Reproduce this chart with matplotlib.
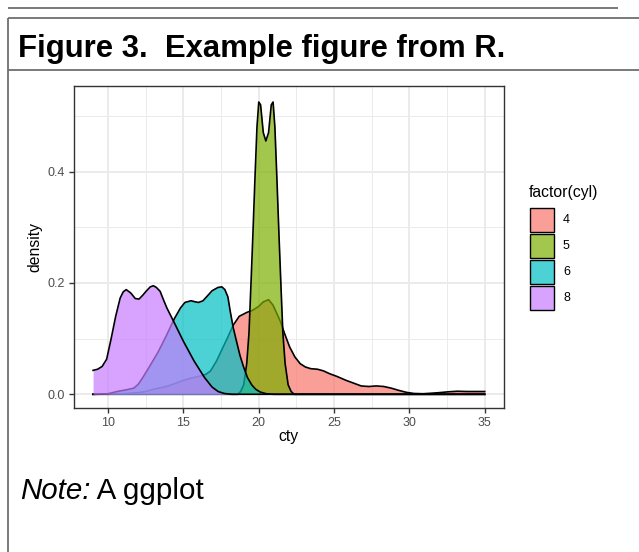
import matplotlib
matplotlib.use("Agg")
import matplotlib.pyplot as plt
from matplotlib.lines import Line2D
from matplotlib.patches import Rectangle
from matplotlib.colors import to_rgba

# ---------------- data ----------------
groups = ["4", "5", "6", "8"]
colors = ["#F8766D", "#7CAE00", "#00BFC4", "#C77CFF"]

red_x = [9, 10, 11, 12, 12.5, 13, 13.5, 14, 14.5, 15, 15.5, 16, 16.5, 16.8, 17.2, 17.6, 17.9, 18.3, 18.7, 19.2,
         19.6, 20.0, 20.3, 20.65, 20.95, 21.2, 21.45, 21.7, 22.05, 22.4, 22.75, 23.1, 23.45, 23.9, 24.3, 24.7,
         25.2, 25.8, 26.3, 26.8, 27.3, 27.8, 28.3, 28.8, 29.3, 29.8, 30.3, 30.9, 31.5, 32.0, 32.6, 33.2, 33.8,
         34.4, 35]
red_y = [0, 0.0005, 0.001, 0.003, 0.005, 0.009, 0.012, 0.015, 0.02, 0.025, 0.029, 0.032, 0.036, 0.042, 0.06,
         0.083, 0.1, 0.124, 0.14, 0.147, 0.151, 0.158, 0.166, 0.17, 0.16, 0.145, 0.13, 0.11, 0.085, 0.067,
         0.055, 0.049, 0.046, 0.045, 0.042, 0.037, 0.032, 0.025, 0.02, 0.015, 0.014, 0.015, 0.014, 0.011,
         0.007, 0.0035, 0.0015, 0.001, 0.002, 0.003, 0.0045, 0.0055, 0.005, 0.005, 0.005]

grn_x = [9, 18.6, 18.8, 19.0, 19.2, 19.35, 19.47, 19.6, 19.75, 19.88, 20.0, 20.12, 20.3, 20.47, 20.65, 20.83,
         20.95, 21.07, 21.2, 21.35, 21.48, 21.6, 21.75, 21.95, 22.15, 22.35, 35]
grn_y = [0, 0, 0.005, 0.017, 0.055, 0.11, 0.19, 0.28, 0.39, 0.48, 0.525, 0.52, 0.47, 0.455, 0.47, 0.52,
         0.525, 0.48, 0.39, 0.28, 0.19, 0.11, 0.055, 0.017, 0.005, 0, 0]

cyn_x = [9, 10.0, 10.6, 11.2, 11.7, 12.0, 12.3, 12.75, 13.3, 13.86, 14.4, 14.8, 15.1, 15.5, 15.8, 16.0, 16.3,
         16.6, 16.9, 17.3, 17.55, 17.75, 17.95, 18.1, 18.3, 18.55, 18.75, 18.98, 19.25, 19.53, 19.8, 20.1,
         20.5, 21, 35]
cyn_y = [0, 0.001, 0.005, 0.008, 0.011, 0.018, 0.03, 0.05, 0.075, 0.105, 0.136, 0.155, 0.165, 0.168, 0.166,
         0.165, 0.168, 0.177, 0.186, 0.192, 0.193, 0.188, 0.175, 0.15, 0.12, 0.092, 0.07, 0.05, 0.03, 0.017,
         0.009, 0.004, 0.001, 0, 0]

pur_x = [9.0, 9.3, 9.6, 9.9, 10.2, 10.5, 10.8, 11.0, 11.2, 11.5, 11.8, 12.05, 12.3, 12.55, 12.8, 13.0, 13.2,
         13.45, 13.7, 13.9, 14.4, 15.0, 15.7, 16.4, 16.9, 17.3, 17.7, 18.2, 35]
pur_y = [0.043, 0.045, 0.05, 0.063, 0.1, 0.14, 0.173, 0.184, 0.188, 0.182, 0.172, 0.171, 0.178, 0.186, 0.193,
         0.195, 0.192, 0.185, 0.168, 0.155, 0.128, 0.095, 0.06, 0.03, 0.013, 0.005, 0.0015, 0, 0]

series_x = [red_x, grn_x, cyn_x, pur_x]
series_y = [red_y, grn_y, cyn_y, pur_y]

x_ticks = [10, 15, 20, 25, 30, 35]
y_ticks = [0.0, 0.2, 0.4]
y_ticklabels = ["0.0", "0.2", "0.4"]

title_text = "Figure 3.  Example figure from R."
note_label = "Note:"
note_text = " A ggplot"

# ---------------- figure ----------------
W, H = 639, 552
fig = plt.figure(figsize=(W / 100, H / 100), dpi=100)


def X(px):
    return px / W


def Y(py):
    return 1 - py / H


frame_col = "#6e6e6e"
for xs, ys in [((8, 618), (8, 8)), ((8, 639), (18, 18)), ((8, 8), (18, 552)), ((8, 639), (70, 70))]:
    fig.add_artist(Line2D([X(xs[0]), X(xs[1])], [Y(ys[0]), Y(ys[1])], color=frame_col, lw=1.3,
                          solid_capstyle="butt"))

sans = "Liberation Sans"
title = fig.text(X(18), Y(57), title_text, fontsize=22.5, fontweight="bold", family=sans, va="baseline",
                 color="black")

note1 = fig.text(X(20), Y(499), note_label, fontsize=21, style="italic", family=sans, va="baseline")
note2 = fig.text(0, 0, note_text, fontsize=21, family=sans, va="baseline")

# ---------------- panel ----------------
left, right, top, bottom = 73.5, 504.3, 85.7, 408.3
ax = fig.add_axes([X(left), Y(bottom), (right - left) / W, (bottom - top) / H])
ax.set_facecolor("white")
ax.set_xlim(7.7, 36.3)
ax.set_ylim(-0.02515, 0.5543)

grid_col = "#EBEBEB"
for v in [12.5, 17.5, 22.5, 27.5, 32.5]:
    ax.axvline(v, color=grid_col, lw=0.7, zorder=0)
for v in [0.1, 0.3, 0.5]:
    ax.axhline(v, color=grid_col, lw=0.7, zorder=0)
for v in x_ticks:
    ax.axvline(v, color=grid_col, lw=1.4, zorder=0)
for v in y_ticks:
    ax.axhline(v, color=grid_col, lw=1.4, zorder=0)

for i, (xs, ys) in enumerate(zip(series_x, series_y)):
    ax.fill_between(xs, 0, ys, color=colors[i], alpha=0.7, lw=0, zorder=2 + 2 * i)
    ax.plot(xs, ys, color="black", lw=1.2, zorder=3 + 2 * i, solid_joinstyle="round")

ax.set_xticks(x_ticks)
ax.set_xticklabels([str(t) for t in x_ticks])
ax.set_yticks(y_ticks)
ax.set_yticklabels(y_ticklabels)
ax.tick_params(axis="both", length=3.8, width=1.0, color="#333333", labelcolor="#4D4D4D",
               labelsize=9, pad=2.5)
for lab in ax.get_xticklabels() + ax.get_yticklabels():
    lab.set_family(sans)
for s in ax.spines.values():
    s.set_color("#333333")
    s.set_linewidth(1.0)

fig.text(X((left + right) / 2), Y(437), "cty", fontsize=11.3, family=sans, ha="center", va="center")
fig.text(X(35), Y((top + bottom) / 2), "density", fontsize=11.3, family=sans, ha="center", va="center",
         rotation=90)

# ---------------- legend ----------------
fig.text(X(529), Y(193), "factor(cyl)", fontsize=11.3, family=sans, ha="left", va="center")
for i, g in enumerate(groups):
    y0 = 208 + 26 * i
    fig.add_artist(Rectangle((X(530), Y(y0 + 24)), 24 / W, 24 / H, transform=fig.transFigure,
                             facecolor=to_rgba(colors[i], 0.7), edgecolor="black", lw=1.0))
    fig.text(X(563), Y(y0 + 12), g, fontsize=9, family=sans, ha="left", va="center")

# ---------------- fit title / note widths ----------------
fig.canvas.draw()
r = fig.canvas.get_renderer()
w = title.get_window_extent(r).width
title.set_fontsize(22.5 * 487 / w)
fig.canvas.draw()
bb1 = note1.get_window_extent(r)
note2.set_position((bb1.x1 / W, Y(499)))
fig.canvas.draw()
tot = note2.get_window_extent(r).x1 - bb1.x0
scale = 184 / tot
note1.set_fontsize(21 * scale)
note2.set_fontsize(21 * scale)
fig.canvas.draw()
bb1 = note1.get_window_extent(r)
note2.set_position((bb1.x1 / W, Y(499)))

fig.savefig("out.png", dpi=100)
